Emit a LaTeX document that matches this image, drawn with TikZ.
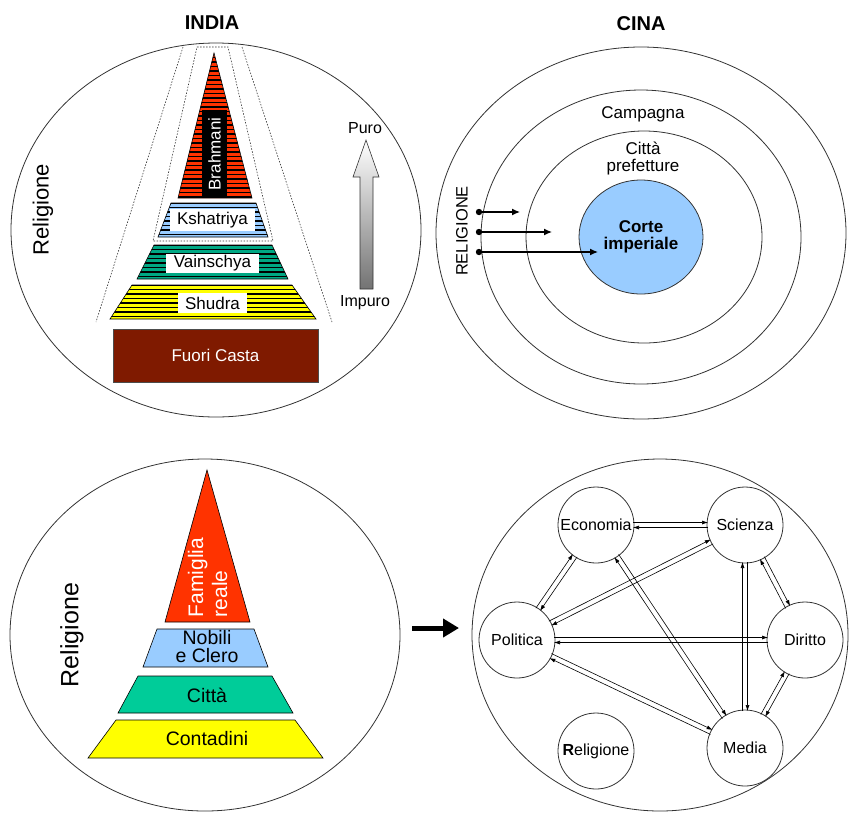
\documentclass[tikz,border=0pt]{standalone}
\usepackage{fontspec}
\setmainfont{Liberation Sans}
\usetikzlibrary{arrows.meta,calc,shapes.geometric}
\definecolor{brahred}{HTML}{FF3300}
\definecolor{kshblue}{HTML}{99CCFF}
\definecolor{vaigreen}{HTML}{00A884}
\definecolor{shuyellow}{HTML}{FFFF00}
\definecolor{fuoribrown}{HTML}{7F1A00}
\definecolor{cittagreen}{HTML}{00CC99}
\newcommand{\fs}[1]{\fontsize{#1}{#1}\selectfont}
% striped layer: colour, path, first stripe y
\newcommand{\caste}[3]{\begin{scope}\clip #2;\fill[#1] #2;
  \foreach \k in {0,...,34} \draw[black,line width=1.6] (90,#3+4.5*\k) -- (330,#3+4.5*\k);
  \end{scope}\draw[black,line width=0.6] #2;}
% double link with opposite arrows
\newcommand{\twoway}[2]{%
  \draw[link] ($(#1)!2.5pt!90:(#2)$) -- ($(#2)!2.5pt!-90:(#1)$);
  \draw[link] ($(#2)!2.5pt!90:(#1)$) -- ($(#1)!2.5pt!-90:(#2)$);}
\tikzset{
  ring/.style={draw=black!80,line width=0.8},
  title/.style={font=\bfseries\fs{20}},
  dotline/.style={black!80,line width=0.6,dash pattern=on 1.5pt off 1.5pt},
  tag/.style={fill=white,inner sep=0pt,font=\fs{17}},
  sphere/.style={circle,draw=black!80,line width=0.8,minimum size=76pt,inner sep=0pt,font=\fs{16}},
  link/.style={-{Latex[length=6pt,width=4pt]},line width=0.6,shorten <=37pt,shorten >=37pt},
  push/.style={-{Latex[length=8pt,width=7pt]},line width=1.3},
  layer/.style={draw=black,line width=0.6}
}
\begin{document}
\begin{tikzpicture}[x=1pt,y=-1pt,font=\fs{17}]
\useasboundingbox (0,0) rectangle (850,812);
% INDIA
\begin{scope}
  \node[title] (india) at (212,23) {INDIA};
  \draw[ring] (216,230) ellipse [x radius=205,y radius=187];
  \node[rotate=90,font=\fs{22}] (relind) at (43,210) {Religione};
  \draw[dotline] (183,47) -- (96,322);\draw[dotline] (242,47) -- (332,322);
  \draw[dotline] (197,47) -- (228,47) -- (273,241) -- (153,241) -- cycle;
  \caste{brahred}{(214,53) -- (252,198) -- (178,198) -- cycle}{53}
  \caste{kshblue}{(171,203) -- (256,203) -- (268,237) -- (158,237) -- cycle}{203}
  \caste{vaigreen}{(154,245) -- (272,245) -- (288,279) -- (137,279) -- cycle}{245}
  \caste{shuyellow}{(132,285) -- (292,285) -- (316,319) -- (110,319) -- cycle}{285}
  \node[rotate=90,fill=black,text=white,minimum width=88pt,minimum height=25pt,inner sep=0pt,font=\fs{17}] (brah) at (214.5,154) {Brahmani};
  \node[tag,minimum width=85pt,minimum height=22pt] (ksh) at (212.5,220) {Kshatriya};
  \node[tag,minimum width=93pt,minimum height=19pt] (vai) at (212.5,263.5) {Vainschya};
  \node[tag,minimum width=69pt,minimum height=20pt] (shu) at (212.5,303) {Shudra};
  \node[fill=fuoribrown,draw=black!70,text=white,minimum width=205pt,minimum height=53pt] (fuori) at (215.5,355.5) {Fuori Casta};
  \shade[top color=white,bottom color=black!55,draw=black!80,line width=0.6] (360,289) -- (360,177) -- (353,177) -- (366,140) -- (379,177) -- (373,177) -- (373,289) -- cycle;
  \node[font=\fs{16}] (puro) at (365,128) {Puro};\node[font=\fs{16}] (impuro) at (365,303) {Impuro};
\end{scope}
% CINA
\begin{scope}
  \node[title] (cina) at (641,24) {CINA};
  \draw[ring] (641,233) ellipse [x radius=205,y radius=186];
  \draw[ring] (641,237) ellipse [x radius=160,y radius=147];
  \draw[ring] (644,237) ellipse [x radius=118,y radius=106];
  \node[ellipse,fill=kshblue,draw=black!80,line width=0.8,minimum width=124pt,minimum height=114pt,align=center,font=\bfseries\fs{17}] (corte) at (641,237) {Corte\\imperiale};
  \node (campagna) at (643,114) {Campagna};
  \node[align=center,font=\fontsize{17}{17}\selectfont] (citta) at (643,158) {Città\\prefetture};
  \node[rotate=90,font=\fs{16.5}] (relcina) at (462,231) {RELIGIONE};
  \coordinate (d1) at (479,212);\coordinate (d2) at (479,232);\coordinate (d3) at (479,252);
  \coordinate (e1) at (520,212);\coordinate (e2) at (552,232);\coordinate (e3) at (598,252);
  \foreach \i in {1,2,3} {\fill (d\i) circle (3.2);\draw[push] (d\i) -- (e\i);}
\end{scope}
% bottom left pyramid
\begin{scope}
  \draw[ring] (205,635) ellipse [x radius=195,y radius=176];
  \node[rotate=90,font=\fs{25}] (relpyr) at (72,635) {Religione};
  \fill[brahred,layer] (207,470) -- (250,622) -- (165,622) -- cycle;
  \fill[kshblue,layer] (157,629) -- (254,629) -- (268,667) -- (143,667) -- cycle;
  \fill[cittagreen,layer] (138,676) -- (272,676) -- (293,713) -- (118,713) -- cycle;
  \fill[shuyellow,layer] (116,720) -- (295,720) -- (323,758) -- (88,758) -- cycle;
  \node[rotate=90,text=white,align=left,font=\fontsize{21}{24}\selectfont] (fam) at (207.5,577.5) {Famiglia\\reale};
  \node[align=center,font=\fontsize{19.5}{18}\selectfont] (nobili) at (207,647) {Nobili\\e Clero};
  \node[font=\fs{19.5}] (cittab) at (207,695) {Città};
  \node[font=\fs{19.5}] (contadini) at (207,739) {Contadini};
\end{scope}
\coordinate (a1) at (412,628);\coordinate (a2) at (459,628);
\draw[-{Triangle[length=16pt,width=18pt]},line width=5] (a1) -- (a2);
% bottom right network
\begin{scope}
  \draw[ring] (660,635) ellipse [x radius=188,y radius=176];
  \node[sphere] (eco) at (596,525) {Economia};
  \node[sphere] (sci) at (745,525) {Scienza};
  \node[sphere] (pol) at (517,640) {Politica};
  \node[sphere] (dir) at (805,640) {Diritto};
  \node[sphere] (rel) at (596,751) {{\bfseries R}eligione};
  \node[sphere] (med) at (745,748) {Media};
  \twoway{eco}{sci}\twoway{eco}{pol}\twoway{eco}{med}
  \twoway{sci}{pol}\twoway{sci}{med}\twoway{sci}{dir}
  \twoway{pol}{dir}\twoway{pol}{med}\twoway{dir}{med}
\end{scope}
\end{tikzpicture}
\end{document}
